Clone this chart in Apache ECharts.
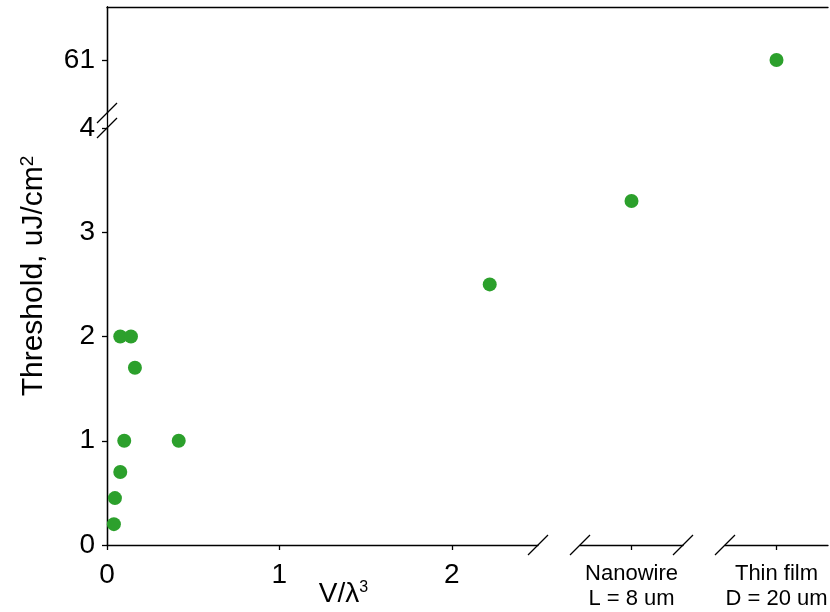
<!DOCTYPE html>
<html>
<head>
<meta charset="utf-8">
<script src="https://cdn.jsdelivr.net/npm/echarts@6/dist/echarts.min.js"></script>
<style>
  html, body { margin: 0; padding: 0; background: #fff; }
  #chart { width: 830px; height: 612px; }
</style>
</head>
<body>
<div id="chart"></div>
<script>
// Small cavities: mode volume (V/λ³) and lasing threshold (uJ/cm²)
const cavityVolume    = [0.040, 0.046, 0.077, 0.100, 0.077, 0.139, 0.162, 0.416, 2.22];
const cavityThreshold = [0.20,  0.45,  0.70,  1.00,  2.00,  2.00,  1.70,  1.00,  2.50];

// Extended structures shown on their own broken-axis columns
const extendedLabels    = ['Nanowire\nL = 8 um', 'Thin film\nD = 20 um'];
const extendedThreshold = [3.3, 61];

// Tick values
const xTicks     = [0, 1, 2];
const yTicks     = [0, 1, 2, 3, 4];
const upperTicks = [61];

// ---- layout (pixels) ----
const FRAME_L = 107, FRAME_R = 828, FRAME_T = 7, FRAME_B = 545;
const LOW_TOP = 128;     // top of the 0–4 segment
const UP_BOTTOM = 113;   // bottom of the upper segment
const segA = [107, 538], segB = [580, 683], segC = [725, 828];

const INK = '#000';
const LW = 1.3;
const FONT = 'Liberation Sans, Arial, sans-serif';

const lineStyle = { color: INK, width: LW };
const tickStyle = { show: true, length: 5, lineStyle: { color: INK, width: LW } };
const tickFont = { color: INK, fontFamily: FONT, fontSize: 28 };

const pts = cavityVolume.map((v, i) => [v, cavityThreshold[i]]);

const chart = echarts.init(document.getElementById('chart'), null, { renderer: 'canvas' });

function slash(cx, cy) {
  return {
    type: 'line',
    shape: { x1: cx - 10, y1: cy + 10, x2: cx + 10, y2: cy - 10 },
    style: { stroke: INK, lineWidth: LW },
    z: 100
  };
}

function box(left, top, right, bottom) {
  return { left: left, top: top, width: right - left, height: bottom - top, outerBoundsMode: 'none' };
}

chart.setOption({
  animation: false,
  backgroundColor: '#fff',
  grid: [
    box(segA[0], LOW_TOP, segA[1], FRAME_B),      // 0: main 0–2.5 segment
    box(segB[0], LOW_TOP, segB[1], FRAME_B),      // 1: nanowire column
    box(segC[0], LOW_TOP, segC[1], FRAME_B),      // 2: thin film column, lower
    box(segC[0], FRAME_T, segC[1], UP_BOTTOM),    // 3: thin film column, upper
    box(FRAME_L, FRAME_T, FRAME_R, UP_BOTTOM),    // 4: upper band (top frame + 61 tick)
    box(FRAME_L, FRAME_T, FRAME_R, FRAME_B)       // 5: full frame (right edge + y title)
  ],
  xAxis: [
    {
      gridIndex: 0, type: 'value', min: 0, max: 2.5,
      axisLine: { show: true, lineStyle },
      axisTick: Object.assign({ customValues: xTicks }, tickStyle),
      axisLabel: Object.assign({ customValues: xTicks, margin: 16 }, tickFont),
      splitLine: { show: false },
      name: '{a|V/λ}{s|3}',
      nameLocation: 'middle',
      nameGap: 35,
      nameMoveOverlap: false,
      nameTextStyle: {
        padding: [0, 0, 0, 42],
        rich: {
          a: { fontFamily: FONT, fontSize: 28, color: INK, lineHeight: 28 },
          s: { fontFamily: FONT, fontSize: 16, color: INK, verticalAlign: 'top', lineHeight: 28 }
        }
      }
    },
    {
      gridIndex: 1, type: 'category', data: [extendedLabels[0]], boundaryGap: true,
      axisLine: { show: true, lineStyle },
      axisTick: Object.assign({ alignWithLabel: true }, tickStyle),
      axisLabel: { color: INK, fontFamily: FONT, fontSize: 22, lineHeight: 25, margin: 16 }
    },
    {
      gridIndex: 2, type: 'category', data: [extendedLabels[1]], boundaryGap: true,
      axisLine: { show: true, lineStyle },
      axisTick: Object.assign({ alignWithLabel: true }, tickStyle),
      axisLabel: { color: INK, fontFamily: FONT, fontSize: 22, lineHeight: 25, margin: 16 }
    },
    {
      gridIndex: 3, type: 'category', data: [extendedLabels[1]], boundaryGap: true, show: false
    },
    {
      gridIndex: 4, type: 'value', min: 0, max: 1, position: 'top',
      axisLine: { show: true, lineStyle },
      axisTick: { show: false }, axisLabel: { show: false }, splitLine: { show: false }
    },
    {
      gridIndex: 5, type: 'value', min: 0, max: 1, show: false
    }
  ],
  yAxis: [
    {
      gridIndex: 0, type: 'value', min: 0, max: 4,
      axisLine: { show: true, lineStyle },
      axisTick: Object.assign({ customValues: yTicks }, tickStyle),
      axisLabel: Object.assign({ customValues: yTicks, margin: 12 }, tickFont),
      splitLine: { show: false }
    },
    { gridIndex: 1, type: 'value', min: 0, max: 4, show: false },
    { gridIndex: 2, type: 'value', min: 0, max: 4, show: false },
    { gridIndex: 3, type: 'value', min: 60.5, max: 61.5, show: false },
    {
      gridIndex: 4, type: 'value', min: 60.5, max: 61.5,
      axisLine: { show: true, lineStyle },
      axisTick: Object.assign({ customValues: upperTicks }, tickStyle),
      axisLabel: Object.assign({ customValues: upperTicks, margin: 12 }, tickFont),
      splitLine: { show: false }
    },
    {
      gridIndex: 5, type: 'value', min: 0, max: 1, position: 'right',
      axisLine: { show: true, lineStyle },
      axisTick: { show: false }, axisLabel: { show: false }, splitLine: { show: false }
    },
    {
      gridIndex: 5, type: 'value', min: 0, max: 1, position: 'left',
      axisLine: { show: false }, axisTick: { show: false },
      axisLabel: { show: false }, splitLine: { show: false },
      name: '{a|Threshold, uJ/cm}{s|2}',
      nameLocation: 'middle',
      nameGap: 58,
      nameMoveOverlap: false,
      nameTextStyle: {
        rich: {
          a: { fontFamily: FONT, fontSize: 30, color: INK, lineHeight: 31 },
          s: { fontFamily: FONT, fontSize: 19, color: INK, verticalAlign: 'top', lineHeight: 31 }
        }
      }
    }
  ],
  series: [
    {
      type: 'scatter', xAxisIndex: 0, yAxisIndex: 0,
      data: pts, symbolSize: 14,
      itemStyle: { color: '#2ca02c', opacity: 1 }
    },
    {
      type: 'scatter', xAxisIndex: 1, yAxisIndex: 1,
      data: [extendedThreshold[0]], symbolSize: 14,
      itemStyle: { color: '#2ca02c', opacity: 1 }
    },
    {
      type: 'scatter', xAxisIndex: 3, yAxisIndex: 3,
      data: [extendedThreshold[1]], symbolSize: 14,
      itemStyle: { color: '#2ca02c', opacity: 1 }
    }
  ],
  graphic: [
    // breaks on the y-axis
    slash(FRAME_L, UP_BOTTOM),
    slash(FRAME_L, LOW_TOP),
    // breaks on the x-axis
    slash(segA[1], FRAME_B),
    slash(segB[0], FRAME_B),
    slash(segB[1], FRAME_B),
    slash(segC[0], FRAME_B)
  ]
});
</script>
</body>
</html>
